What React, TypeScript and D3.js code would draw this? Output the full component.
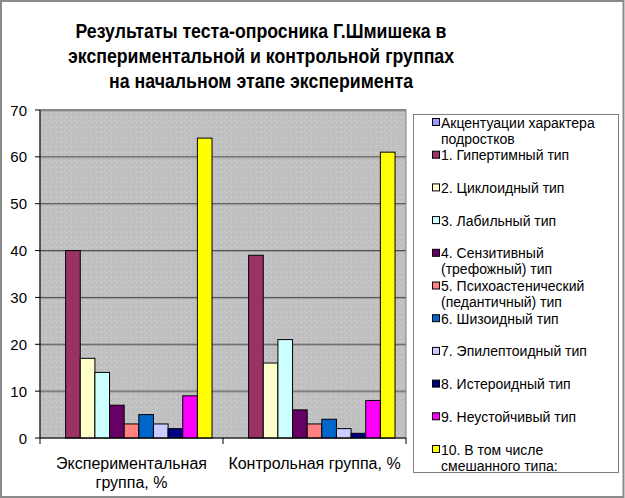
import React from "react";
import * as d3 from "d3";

const categories = ["Экспериментальная группа, %", "Контрольная группа, %"];
const categoryLines = [["Экспериментальная", "группа, %"], ["Контрольная группа, %"]];
const seriesNames = [
  "Акцентуации характера подростков",
  "1. Гипертимный тип",
  "2. Циклоидный тип",
  "3. Лабильный тип",
  "4. Сензитивный (трефожный) тип",
  "5. Психоастенический (педантичный) тип",
  "6. Шизоидный тип",
  "7. Эпилептоидный тип",
  "8. Истероидный тип",
  "9. Неустойчивый тип",
  "10. В том числе смешанного типа:",
];
const legendLines = [
  ["Акцентуации характера", "подростков"],
  ["1. Гипертимный тип"],
  ["2. Циклоидный тип"],
  ["3. Лабильный тип"],
  ["4. Сензитивный", "(трефожный) тип"],
  ["5. Психоастенический", "(педантичный) тип"],
  ["6. Шизоидный тип"],
  ["7. Эпилептоидный тип"],
  ["8. Истероидный тип"],
  ["9. Неустойчивый тип"],
  ["10. В том числе", "смешанного типа:"],
];
const experimentalValues = [0, 40, 17, 14, 7, 3, 5, 3, 2, 9, 64];
const controlValues = [0, 39, 16, 21, 6, 3, 4, 2, 1, 8, 61];
const seriesColors = [
  "#9999FF", "#993366", "#FFFFCC", "#CCFFFF", "#660066", "#FF8080",
  "#0066CC", "#CCCCFF", "#000080", "#FF00FF", "#FFFF00",
];
const yTicks = [0, 10, 20, 30, 40, 50, 60, 70];
const titleLines = [
  "Результаты теста-опросника Г.Шмишека в",
  "экспериментальной и контрольной группах",
  "на начальном этапе эксперимента",
];
const titleWidths = [371, 386, 304];

export default function App() {
  const W = 625, H = 498;
  const left = 40, right = 406, top = 110, bottom = 438;
  const values = [experimentalValues, controlValues];
  const x0 = d3.scaleBand().domain(categories).range([left, right]).paddingInner(0).paddingOuter(0);
  const nS = seriesNames.length;
  const bw = x0.bandwidth() / (nS + 1.5);
  const x1 = d3.scaleBand().domain(seriesNames).range([0.75 * bw, 0.75 * bw + nS * bw]).padding(0);
  const y = d3.scaleLinear().domain([0, 70]).range([bottom, top]);
  const font = "'Liberation Sans', Arial, sans-serif";
  const legendY0 = 122.5, legendStep = 32.7;

  return (
    <svg width={W} height={H} style={{ position: "absolute", left: 0, top: 0 }} fontFamily={font}>
      <defs>
        <pattern id="dots" width="5" height="5" patternUnits="userSpaceOnUse">
          <rect width="5" height="5" fill="#C0C0C0" />
          <rect x="1" y="2" width="1" height="1" fill="#D4D4DC" />
          <rect x="3" y="4" width="1" height="1" fill="#B4B4BC" />
          <rect x="4" y="0" width="1" height="1" fill="#CCCCD8" />
        </pattern>
      </defs>
      <rect x={0} y={0} width={W} height={H} fill="#fff" />
      <rect x={1} y={1} width={W - 2.5} height={H - 2} fill="none" stroke="#8a8a8a" strokeWidth={2} />
      {titleLines.map((t, i) => (
        <text key={i} x={261} y={30 + i * 25} textAnchor="middle" dominantBaseline="central"
          textLength={titleWidths[i]} lengthAdjust="spacingAndGlyphs"
          fontWeight="bold" fontSize={21}>{t}</text>
      ))}
      <rect x={left} y={top} width={right - left} height={bottom - top} fill="url(#dots)" stroke="#808080" strokeWidth={1} />
      {yTicks.map((t) => (
        <g key={t}>
          {t > 0 && <line x1={left} x2={right} y1={y(t)} y2={y(t)} stroke="#4a4a4a" strokeWidth={1} />}
          {t > 0 && <line x1={left} x2={right} y1={y(t) + 1} y2={y(t) + 1} stroke="#9a9a9a" strokeWidth={1} />}
          <line x1={left - 5} x2={left} y1={y(t)} y2={y(t)} stroke="#000" />
          <text x={27} y={y(t)} textAnchor="end" dominantBaseline="central" fontSize={15}>{t}</text>
        </g>
      ))}
      {categories.map((c, ci) => (
        <g key={c} transform={`translate(${x0(c)},0)`}>
          {seriesNames.map((s, si) => {
            const v = values[ci][si];
            if (v <= 0) return null;
            return (
              <rect key={s} x={x1(s)} y={y(v)} width={x1.bandwidth()} height={bottom - y(v)}
                fill={seriesColors[si]} stroke="#000" strokeWidth={1} />
            );
          })}
        </g>
      ))}
      <line x1={left} x2={left} y1={top} y2={bottom} stroke="#000" />
      <line x1={left} x2={right} y1={bottom} y2={bottom} stroke="#000" />
      {[left, x0(categories[1])!, right].map((xx, i) => (
        <line key={i} x1={xx} x2={xx} y1={bottom} y2={bottom + 6} stroke="#000" />
      ))}
      {categories.map((c, ci) => (
        <g key={c}>
          {categoryLines[ci].map((ln, li) => (
            <text key={li} x={x0(c)! + x0.bandwidth() / 2} y={463 + li * 19} textAnchor="middle"
              dominantBaseline="central" fontSize={16}>{ln}</text>
          ))}
        </g>
      ))}
      <rect x={413.5} y={114.5} width={205} height={358} fill="#fff" stroke="#808080" strokeWidth={1} />
      {seriesNames.map((s, si) => {
        const cy = legendY0 + si * legendStep;
        return (
          <g key={s}>
            <rect x={432.5} y={cy - 4} width={7} height={7} fill={seriesColors[si]} stroke="#000" strokeWidth={1} />
            {legendLines[si].map((ln, li) => (
              <text key={li} x={441} y={cy + li * 16} dominantBaseline="central" fontSize={14}>{ln}</text>
            ))}
          </g>
        );
      })}
    </svg>
  );
}
